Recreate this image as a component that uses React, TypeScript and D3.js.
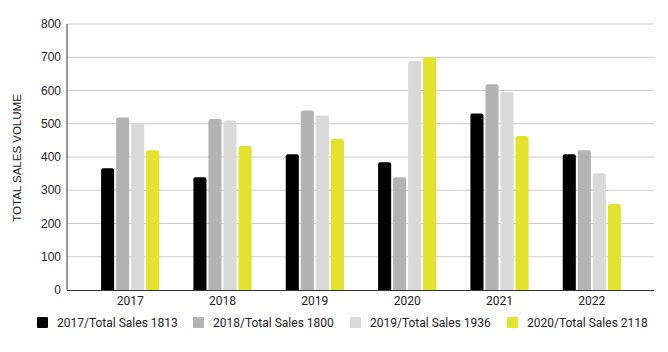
import React from "react";
import * as d3 from "d3";

const categories = ["2017", "2018", "2019", "2020", "2021", "2022"];
const seriesNames = [
  "2017/Total Sales 1813",
  "2018/Total Sales 1800",
  "2019/Total Sales 1936",
  "2020/Total Sales 2118",
];
const s2017 = [366, 339, 408, 384, 531, 408];
const s2018 = [519, 514, 540, 339, 619, 420];
const s2019 = [501, 510, 525, 689, 595, 351];
const s2020 = [420, 433, 454, 700, 463, 259];
const seriesValues = [s2017, s2018, s2019, s2020];
const colors = ["#000000", "#b3b3b3", "#d9d9d9", "#e3e22c"];
const yTicks = [0, 100, 200, 300, 400, 500, 600, 700, 800];

export default function App() {
  const W = 668, H = 352;
  const left = 67, right = 654, top = 24, bottom = 290;
  const y = d3.scaleLinear().domain([0, 800]).range([bottom, top]);
  const x0 = d3.scaleBand<string>().domain(categories).range([84, 638]).paddingInner(0.37).paddingOuter(0.185);
  const x1 = d3.scaleBand<number>().domain([0, 1, 2, 3]).range([0, x0.bandwidth()]).paddingInner(0.13);
  const legendX = [37, 193, 350, 507];
  const r = 2;
  const barPath = (x: number, w: number, yt: number) => {
    const h = bottom - yt;
    const rr = Math.min(r, h / 2, w / 2);
    return `M${x},${bottom}V${yt + rr}Q${x},${yt} ${x + rr},${yt}H${x + w - rr}Q${x + w},${yt} ${x + w},${yt + rr}V${bottom}Z`;
  };
  return (
    <svg width={W} height={H} style={{ position: "absolute", left: 0, top: 0, background: "#fff" }}>
      {yTicks.map((t) => (
        <g key={t}>
          {t > 0 && <line x1={left} x2={right} y1={y(t)} y2={y(t)} stroke="#cccccc" strokeWidth={1} />}
          <text x={left - 6} y={y(t)} dy="0.35em" textAnchor="end" fontFamily="Liberation Sans, Arial, sans-serif" fontSize={12} fill="#222">
            {t}
          </text>
        </g>
      ))}
      {categories.map((c, i) => (
        <g key={c} transform={`translate(${x0(c)},0)`}>
          {seriesValues.map((s, j) => (
            <path key={j} d={barPath(x1(j)!, x1.bandwidth(), y(s[i]))} fill={colors[j]} />
          ))}
        </g>
      ))}
      <line x1={left} x2={left} y1={top} y2={bottom} stroke="#333" strokeWidth={1} />
      <line x1={left} x2={right} y1={bottom + 0.5} y2={bottom + 0.5} stroke="#333" strokeWidth={1} />
      {categories.map((c) => (
        <text key={c} x={x0(c)! + x0.bandwidth() / 2} y={305} textAnchor="middle" fontFamily="Roboto, sans-serif" fontSize={12} fill="#222">
          {c}
        </text>
      ))}
      <text transform={`translate(21,158) rotate(-90)`} textAnchor="middle" fontFamily="Liberation Sans, Arial, sans-serif" fontSize={11.5} fill="#222">
        TOTAL SALES VOLUME
      </text>
      {seriesNames.map((n, j) => (
        <g key={n}>
          <rect x={legendX[j]} y={317} width={11} height={11} fill={colors[j]} rx={1} />
          <text x={legendX[j] + 20} y={327} fontFamily="Roboto, sans-serif" fontSize={12} fill="#222">
            {n}
          </text>
        </g>
      ))}
    </svg>
  );
}
